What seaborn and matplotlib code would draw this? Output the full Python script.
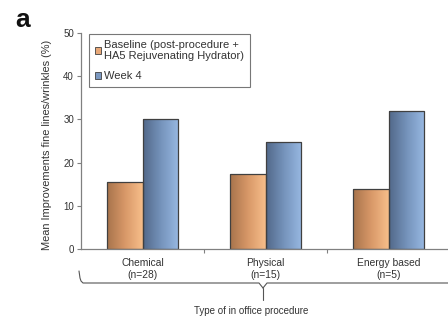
import numpy as np
import pandas as pd
import matplotlib
matplotlib.use("Agg")
import matplotlib.pyplot as plt
from matplotlib.colors import LinearSegmentedColormap
from matplotlib.lines import Line2D
from matplotlib.patches import Rectangle
import seaborn as sns

categories = ["Chemical\n(n=28)", "Physical\n(n=15)", "Energy based\n(n=5)"]
series_names = ["Baseline (post-procedure +\nHA5 Rejuvenating Hydrator)", "Week 4"]
baseline = [15.4, 17.4, 14.0]
week4 = [30.1, 24.8, 31.9]
yticks = [0, 10, 20, 30, 40, 50]

df = pd.DataFrame({
    "category": categories * 2,
    "value": baseline + week4,
    "series": [series_names[0]] * 3 + [series_names[1]] * 3,
})

sns.set_style("white")
plt.rcParams["font.family"] = ["Liberation Sans", "DejaVu Sans"]

W, H = 448, 319
fig = plt.figure(figsize=(W / 100, H / 100), dpi=100)
ax = fig.add_axes([81 / W, 1 - 249 / H, 369 / W, 216 / H])

flat = ["#E0A070", "#7B98C0"]
sns.barplot(data=df, x="category", y="value", hue="series", hue_order=series_names,
            order=categories, palette=flat, width=0.58, edgecolor="#404040",
            linewidth=0.9, ax=ax, legend=False)

ax.set_xlim(-0.5, 2.5)
ax.set_ylim(0, 50)

grads = [
    LinearSegmentedColormap.from_list("o", ["#A8744C", "#D89868", "#F7BE8A"]),
    LinearSegmentedColormap.from_list("b", ["#52698A", "#7593BB", "#98B8E2"]),
]
g = np.linspace(0, 1, 64).reshape(1, -1)
for cont, cmap in zip(ax.containers, grads):
    for p in cont.patches:
        x0, y0 = p.get_x(), p.get_y()
        x1, y1 = x0 + p.get_width(), y0 + p.get_height()
        im = ax.imshow(g, cmap=cmap, extent=[x0, x1, y0, y1], aspect="auto",
                       zorder=p.get_zorder() + 0.1, interpolation="bilinear")
        im.set_clip_path(p)
        p.set_facecolor("none")
        p.set_zorder(p.get_zorder() + 0.2)

ax.set_xlim(-0.5, 2.5)
ax.set_ylim(0, 50)

text_c = "#333333"
spine_c = "#808080"
for s in ["top", "right"]:
    ax.spines[s].set_visible(False)
for s in ["left", "bottom"]:
    ax.spines[s].set_color(spine_c)
    ax.spines[s].set_linewidth(0.9)

ax.set_yticks(yticks)
ax.tick_params(axis="y", left=True, length=3, width=0.8, color=spine_c,
               labelsize=7, labelcolor=text_c, pad=2)
ax.set_xticks([0, 1, 2])
ax.set_xticklabels(categories)
ax.set_xticks([0.5, 1.5], minor=True)
ax.tick_params(axis="x", which="major", length=0, labelsize=7.4, labelcolor=text_c, pad=6.5)
ax.tick_params(axis="x", which="minor", bottom=True, length=3, width=0.8, color=spine_c)
ax.set_xlabel("")
ax.set_ylabel("Mean Improvements fine lines/wrinkles (%)", fontsize=7.9, color=text_c)
ax.yaxis.set_label_coords(-29 / 369, 0.48)

handles = [Rectangle((0, 0), 1, 1, facecolor=c, edgecolor="#404040", linewidth=0.6)
           for c in ["#E8A878", "#7B98C0"]]
leg = ax.legend(handles, series_names, loc="upper left",
                bbox_to_anchor=(89 / W, 1 - 34 / H), bbox_transform=fig.transFigure,
                fontsize=8, frameon=True, fancybox=False, handlelength=0.55,
                handleheight=0.55, handletextpad=0.3, labelspacing=0.9,
                borderpad=0.5, borderaxespad=0)
leg.get_frame().set_edgecolor("#555555")
leg.get_frame().set_linewidth(0.8)
for t in leg.get_texts():
    t.set_color(text_c)

# brace under the categories (figure pixel coordinates)
def px(x, y):
    return x / W, 1 - y / H

bc = "#555555"
bx = [79, 80, 81, 83, 259, 263]
by = [271, 278, 281, 283, 283, 288]
fig.add_artist(Line2D([px(x, y)[0] for x, y in zip(bx, by)],
                      [px(x, y)[1] for x, y in zip(bx, by)], color=bc, lw=0.8))
rx = [263, 267, 448]
ry = [288, 283, 283]
fig.add_artist(Line2D([px(x, y)[0] for x, y in zip(rx, ry)],
                      [px(x, y)[1] for x, y in zip(rx, ry)], color=bc, lw=0.8))
fig.add_artist(Line2D([px(263, 288)[0], px(263, 300)[0]],
                      [px(263, 288)[1], px(263, 300)[1]], color=bc, lw=0.8))

fig.text(*px(251, 311), "Type of in office procedure", ha="center", va="center",
         fontsize=7.0, color=text_c)
fig.text(*px(15, 20), "a", ha="left", va="center", fontsize=19, fontweight="bold",
         color="#111111")

fig.savefig("out.png", dpi=100)
